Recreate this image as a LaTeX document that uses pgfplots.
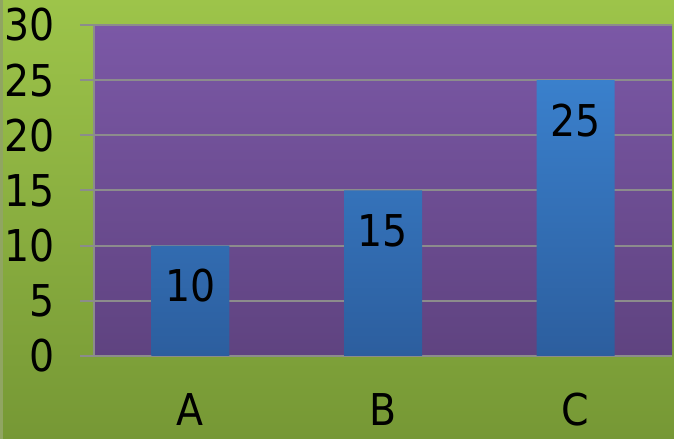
\documentclass[border=0pt]{standalone}
\usepackage{fontspec}
\setmainfont{DejaVu Sans Condensed}
\usepackage{pgfplots}
\pgfplotsset{compat=1.18}
\definecolor{bgtop}{RGB}{157,196,74}
\definecolor{bgbot}{RGB}{118,152,53}
\definecolor{pltop}{RGB}{123,88,166}
\definecolor{plbot}{RGB}{95,67,128}
\definecolor{bartop}{RGB}{58,128,204}
\definecolor{barbot}{RGB}{44,94,158}
\definecolor{gridc}{RGB}{140,140,140}
\begin{document}
\begin{tikzpicture}
\useasboundingbox (0,0) rectangle (674bp,439bp);
\shade[top color=bgtop, bottom color=bgbot] (0,0) rectangle (674bp,439bp);
\fill[gray!45!bgtop] (0,0) rectangle (3bp,439bp);
\begin{axis}[
  at={(94bp,83bp)}, anchor=south west,
  scale only axis, width=578bp, height=331bp,
  xmin=-0.5, xmax=2.5, ymin=0, ymax=30,
  axis background/.style={top color=pltop, bottom color=plbot},
  axis x line*=bottom, axis y line*=left,
  axis line style={gridc, line width=2bp},
  ytick={0,5,...,30},
  ymajorgrids, grid style={gridc, line width=2bp},
  xtick={0,1,2}, xticklabels={A,B,C},
  xtick style={draw=none},
  minor xtick={-0.5,0.5,1.5,2.5},
  xticklabel style={anchor=center, yshift=-40bp},
  tick align=outside,
  major tick length=14bp,
  minor tick length=22bp,
  tick style={gridc, line width=2bp},
  minor tick style={gridc, line width=2bp},
  tick label style={font=\fontsize{44}{50}\selectfont, text=black, inner sep=0pt},
  /pgf/number format/assume math mode=true,
  yticklabel style={anchor=east, xshift=-25bp},
  nodes near coords,
  every node near coord/.append style={anchor=center, yshift=-40bp, font=\fontsize{44}{50}\selectfont, text=black},
]
\addplot[ybar, bar width=78bp, draw=none, top color=bartop, bottom color=barbot] coordinates {(0,10) (1,15) (2,25)};
\end{axis}
\end{tikzpicture}
\end{document}
